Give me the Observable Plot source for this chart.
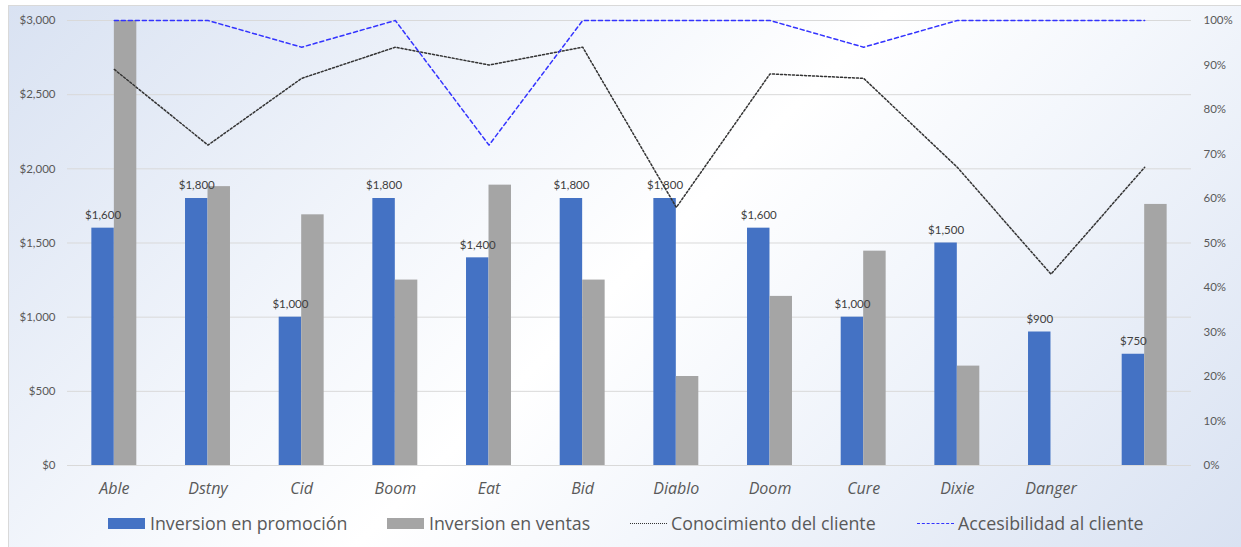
<!DOCTYPE html>
<html>
<head>
<meta charset="utf-8">
<script src="https://cdn.jsdelivr.net/npm/d3@7"></script>
<script src="https://cdn.jsdelivr.net/npm/@observablehq/plot@0.6"></script>
<style>
  html, body { margin: 0; padding: 0; background: #ffffff; width: 1241px; height: 547px; overflow: hidden; }
  #card { position: absolute; left: 8px; top: 5px; width: 1233px; height: 542px; box-sizing: border-box;
    border-left: 1px solid #d9d9d9; border-top: 1px solid #d9d9d9;
    background: linear-gradient(135deg, #d9e2f2 0%, #f4f7fc 35%, #ffffff 50%, #f4f7fc 65%, #d9e2f2 100%); }
  #chart { position: absolute; left: 0; top: 0; }
  #legend { position: absolute; left: 0; top: 511px; width: 1241px; height: 24px; font-family: "Open Sans", Lato, sans-serif; font-size: 17.8px; color: #595959; }
  .item { position: absolute; top: 0; display: flex; align-items: center; height: 24px; white-space: nowrap; }
  .sw { width: 37px; height: 11px; margin-right: 5px; }
  .ln { width: 37px; height: 0; margin-right: 4px; }
</style>
</head>
<body>
<div id="card"></div>
<div id="chart"></div>
<div id="legend"></div>
<script>
const categories = ["Able", "Dstny", "Cid", "Boom", "Eat", "Bid", "Diablo", "Doom", "Cure", "Dixie", "Danger", ""];
const promocion = [1600, 1800, 1000, 1800, 1400, 1800, 1800, 1600, 1000, 1500, 900, 750];
const ventas = [3000, 1880, 1690, 1250, 1890, 1250, 600, 1140, 1445, 670, null, 1760];
const conocimiento = [89, 72, 87, 94, 90, 94, 58, 88, 87, 67, 43, 67];
const accesibilidad = [100, 100, 94, 100, 72, 100, 100, 100, 94, 100, 100, 100];
const dollarTicks = [0, 500, 1000, 1500, 2000, 2500, 3000];
const pctTicks = [0, 10, 20, 30, 40, 50, 60, 70, 80, 90, 100];
const seriesNames = ["Inversion en promoción", "Inversion en ventas", "Conocimiento del cliente", "Accesibilidad al cliente"];
const colors = ["#4472C4", "#A5A5A5", "#333333", "#3333ff"];

const keys = categories.map((c, i) => c === "" ? " " : c);
const rows = keys.map((k, i) => ({
  k, promo: promocion[i], ventas: ventas[i], con: conocimiento[i], acc: accesibilidad[i]
}));
const pctMax = 100, dollarMax = 3000;
const toY = p => p / pctMax * dollarMax;

const fmt = d3.format("$,");
const bandHalf = 22.5;

const chart = Plot.plot({
  width: 1241,
  height: 500,
  marginLeft: 67,
  marginRight: 50,
  marginTop: 20,
  marginBottom: 35,
  style: { background: "transparent", fontFamily: "Lato, 'Open Sans', sans-serif", color: "#595959", overflow: "visible" },
  x: { type: "band", domain: keys, paddingInner: 0.52, paddingOuter: 0.26, round: false, label: null },
  y: { domain: [0, dollarMax], label: null },
  marks: [
    Plot.ruleY(dollarTicks, { stroke: "#d9d9d9", strokeWidth: 1 }),
    Plot.barY(rows, { x: "k", y: "promo", fill: colors[0], insetRight: bandHalf }),
    Plot.barY(rows.filter(d => d.ventas != null), { x: "k", y: "ventas", fill: colors[1], insetLeft: bandHalf }),
    Plot.text(rows, { x: "k", y: "promo", text: d => fmt(d.promo), dx: -11.25, dy: -13, fontSize: 11.5, fill: "#404040" }),
    Plot.line(rows, { x: "k", y: d => toY(d.con), stroke: colors[2], strokeWidth: 1.5, strokeDasharray: "2,2" }),
    Plot.line(rows, { x: "k", y: d => toY(d.acc), stroke: colors[3], strokeWidth: 1.5, strokeDasharray: "4,3" }),
    Plot.axisY(dollarTicks, { anchor: "left", tickSize: 0, tickPadding: 12, tickFormat: d => fmt(d), fontSize: 11.5, label: null }),
    Plot.axisY(pctTicks.map(toY), { anchor: "right", tickSize: 0, tickPadding: 12, tickFormat: d => Math.round(d / dollarMax * pctMax) + "%", fontSize: 11.5, label: null, textAnchor: "start" }),
    Plot.axisX(keys, { tickSize: 0, tickPadding: 17, fontSize: 16, fontStyle: "italic", fontFamily: "'Open Sans', sans-serif", label: null })
  ]
});
document.getElementById("chart").appendChild(chart);

const legend = document.getElementById("legend");
const lefts = [108, 387, 630, 917];
seriesNames.forEach((name, i) => {
  const it = document.createElement("div");
  it.className = "item";
  it.style.left = lefts[i] + "px";
  const mark = document.createElement("div");
  if (i < 2) {
    mark.className = "sw";
    mark.style.background = colors[i];
  } else {
    mark.className = "ln";
    mark.style.borderTop = i === 2 ? "1.5px dotted " + colors[i] : "1.5px dashed " + colors[i];
  }
  it.appendChild(mark);
  const t = document.createElement("span");
  t.textContent = name;
  it.appendChild(t);
  legend.appendChild(it);
});
</script>
</body>
</html>
